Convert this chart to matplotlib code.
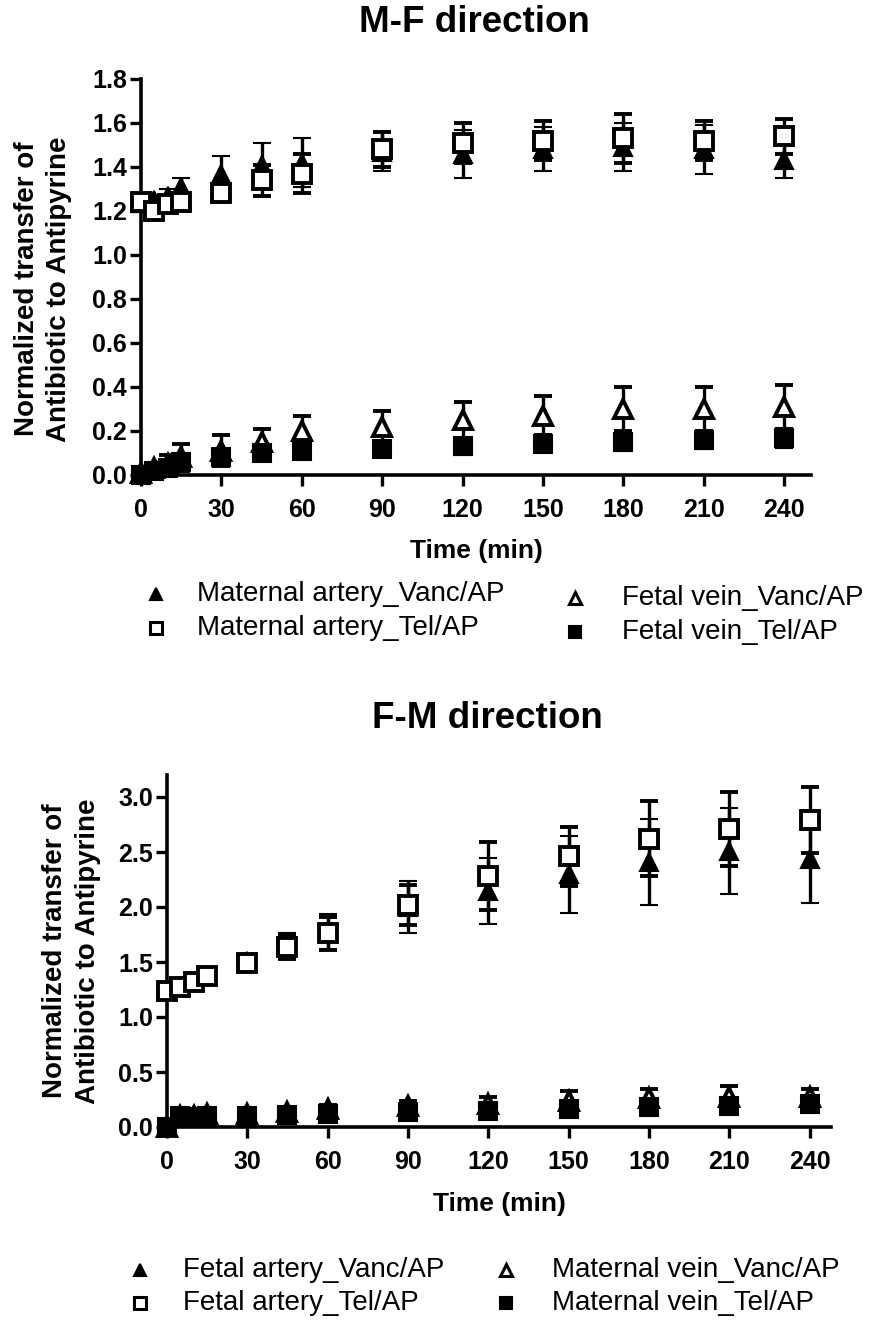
import matplotlib
matplotlib.use("Agg")
import matplotlib.pyplot as plt
from matplotlib.lines import Line2D

plt.rcParams['font.family'] = ['Liberation Sans', 'DejaVu Sans']

# ---------------- data ----------------
times = [0, 5, 10, 15, 30, 45, 60, 90, 120, 150, 180, 210, 240]

# M-F direction
mf_ma_vanc = [1.24, 1.25, 1.27, 1.31, 1.37, 1.41, 1.42, 1.47, 1.46, 1.48, 1.49, 1.48, 1.43]
mf_ma_vanc_err = [0.02, 0.02, 0.03, 0.04, 0.08, 0.10, 0.11, 0.09, 0.11, 0.10, 0.11, 0.11, 0.08]
mf_ma_tel = [1.24, 1.20, 1.23, 1.24, 1.28, 1.34, 1.37, 1.48, 1.51, 1.52, 1.53, 1.52, 1.54]
mf_ma_tel_err = [0.02, 0.03, 0.03, 0.04, 0.04, 0.07, 0.09, 0.08, 0.09, 0.09, 0.11, 0.09, 0.08]
mf_fv_vanc = [0.01, 0.03, 0.05, 0.08, 0.11, 0.15, 0.20, 0.22, 0.25, 0.27, 0.30, 0.30, 0.31]
mf_fv_vanc_err = [0.01, 0.02, 0.04, 0.06, 0.07, 0.06, 0.07, 0.07, 0.08, 0.09, 0.10, 0.10, 0.10]
mf_fv_tel = [0.00, 0.02, 0.03, 0.06, 0.08, 0.10, 0.11, 0.12, 0.13, 0.14, 0.15, 0.16, 0.17]
mf_fv_tel_err = [0.01, 0.01, 0.02, 0.02, 0.02, 0.02, 0.03, 0.02, 0.04, 0.035, 0.04, 0.04, 0.045]

# F-M direction
fm_fa_vanc = [1.24, 1.28, 1.33, 1.38, 1.51, 1.66, 1.78, 2.00, 2.15, 2.30, 2.41, 2.51, 2.44]
fm_fa_vanc_err = [0.03, 0.03, 0.04, 0.04, 0.04, 0.10, 0.16, 0.24, 0.30, 0.35, 0.39, 0.39, 0.40]
fm_fa_tel = [1.24, 1.27, 1.32, 1.37, 1.49, 1.64, 1.76, 2.02, 2.28, 2.46, 2.62, 2.71, 2.79]
fm_fa_tel_err = [0.03, 0.03, 0.03, 0.03, 0.06, 0.11, 0.15, 0.18, 0.31, 0.27, 0.34, 0.34, 0.30]
fm_mv_vanc = [0.00, 0.10, 0.10, 0.12, 0.12, 0.14, 0.16, 0.19, 0.21, 0.24, 0.26, 0.27, 0.27]
fm_mv_vanc_err = [0.00, 0.02, 0.02, 0.02, 0.03, 0.03, 0.04, 0.05, 0.06, 0.09, 0.09, 0.10, 0.08]
fm_mv_tel = [0.00, 0.10, 0.09, 0.10, 0.10, 0.11, 0.12, 0.14, 0.15, 0.16, 0.18, 0.19, 0.21]
fm_mv_tel_err = [0.00, 0.01, 0.01, 0.02, 0.02, 0.02, 0.02, 0.03, 0.03, 0.04, 0.04, 0.05, 0.05]

xticks = [0, 30, 60, 90, 120, 150, 180, 210, 240]
mf_yticks = [0.0, 0.2, 0.4, 0.6, 0.8, 1.0, 1.2, 1.4, 1.6, 1.8]
fm_yticks = [0.0, 0.5, 1.0, 1.5, 2.0, 2.5, 3.0]

mf_labels = ["Maternal artery_Vanc/AP", "Maternal artery_Tel/AP",
             "Fetal vein_Vanc/AP", "Fetal vein_Tel/AP"]
fm_labels = ["Fetal artery_Vanc/AP", "Fetal artery_Tel/AP",
             "Maternal vein_Vanc/AP", "Maternal vein_Tel/AP"]

# ---------------- styles ----------------
W, H = 872, 1324
fig = plt.figure(figsize=(W / 100, H / 100), dpi=100)

styles = [
    dict(marker='^', mfc='black', mec='black', ms=12.5, mew=1.5),
    dict(marker='s', mfc='white', mec='black', ms=12.5, mew=2.8),
    dict(marker='^', mfc='white', mec='black', ms=12.5, mew=2.8),
    dict(marker='s', mfc='black', mec='black', ms=12.5, mew=1.5),
]


def px_ax(left, right, top, bottom):
    return fig.add_axes([left / W, 1 - bottom / H, (right - left) / W, (bottom - top) / H])


def style_axes(ax, yticks, ylim, xlim, xlabelpad):
    ax.set_xlim(*xlim)
    ax.set_ylim(*ylim)
    for s in ['top', 'right']:
        ax.spines[s].set_visible(False)
    for s in ['left', 'bottom']:
        ax.spines[s].set_linewidth(2.6)
    ax.set_xticks(xticks)
    ax.set_xticklabels([str(t) for t in xticks])
    ax.set_yticks(yticks)
    ax.set_yticklabels([f"{v:.1f}" for v in yticks])
    ax.tick_params(axis='both', direction='out', length=8, width=2.4,
                   labelsize=18)
    ax.tick_params(axis='x', pad=8.5)
    ax.tick_params(axis='y', pad=2)
    for lab in ax.get_xticklabels() + ax.get_yticklabels():
        lab.set_fontweight('bold')
    ax.set_xlabel("Time (min)", fontsize=19, fontweight='bold', labelpad=xlabelpad)


def draw_series(ax, series):
    for (y, e), st in zip(series, styles):
        cont = ax.errorbar(times, y, yerr=e, linestyle='none', ecolor='black',
                           elinewidth=2.4, capsize=6.5, capthick=2.4, zorder=3, **st)
        cont.lines[0].set_clip_on(False)
        for art in cont.lines[1]:
            art.set_clip_on(False)
        for art in cont.lines[2]:
            art.set_clip_on(False)


def draw_legend(entries, positions):
    for (label, st), (mx, tx, y) in zip(entries, positions):
        s = dict(st)
        s['ms'] = 9
        if s['mfc'] == 'white':
            s['mew'] = 2.2
        fig.add_artist(Line2D([mx / W], [1 - y / H], linestyle='none',
                              transform=fig.transFigure, **s))
        fig.text(tx / W, 1 - y / H, label, fontsize=20, ha='left', va='center')


# ---------------- top panel ----------------
ax1 = px_ax(141, 811, 79, 475)
style_axes(ax1, mf_yticks, (0, 1.8), (0, 250), 12)
draw_series(ax1, [(mf_ma_vanc, mf_ma_vanc_err), (mf_ma_tel, mf_ma_tel_err),
                  (mf_fv_vanc, mf_fv_vanc_err), (mf_fv_tel, mf_fv_tel_err)])
fig.text(474 / W, 1 - 23 / H, "M-F direction", fontsize=26.5, fontweight='bold',
         ha='center', va='center')
fig.text(34 / W, 1 - 289 / H, "Normalized transfer of", fontsize=20, fontweight='bold',
         rotation=90, rotation_mode='anchor', ha='center', va='baseline')
fig.text(66 / W, 1 - 289 / H, "Antibiotic to Antipyrine", fontsize=20, fontweight='bold',
         rotation=90, rotation_mode='anchor', ha='center', va='baseline')
draw_legend(list(zip(mf_labels, styles)),
            [(156, 197, 594), (156, 197, 628), (575, 622, 598), (575, 622, 632)])

# ---------------- bottom panel ----------------
ax2 = px_ax(167, 831, 775, 1127)
style_axes(ax2, fm_yticks, (0, 3.2), (0, 248), 13)
draw_series(ax2, [(fm_fa_vanc, fm_fa_vanc_err), (fm_fa_tel, fm_fa_tel_err),
                  (fm_mv_vanc, fm_mv_vanc_err), (fm_mv_tel, fm_mv_tel_err)])
fig.text(487 / W, 1 - 718 / H, "F-M direction", fontsize=26.5, fontweight='bold',
         ha='center', va='center')
fig.text(62 / W, 1 - 951 / H, "Normalized transfer of", fontsize=20, fontweight='bold',
         rotation=90, rotation_mode='anchor', ha='center', va='baseline')
fig.text(95 / W, 1 - 951 / H, "Antibiotic to Antipyrine", fontsize=20, fontweight='bold',
         rotation=90, rotation_mode='anchor', ha='center', va='baseline')
draw_legend(list(zip(fm_labels, styles)),
            [(140, 183, 1270), (140, 183, 1303), (506, 552, 1270), (506, 552, 1303)])

fig.savefig("out.png", dpi=100)
